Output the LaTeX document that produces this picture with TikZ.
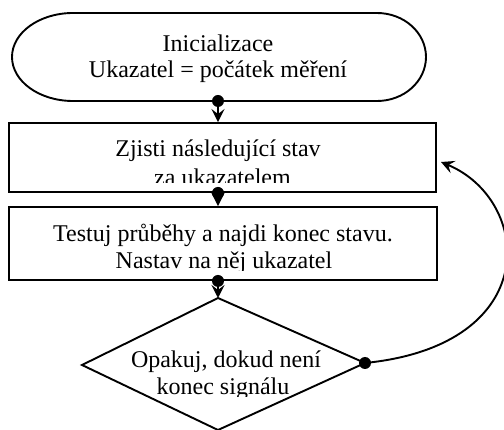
\documentclass[tikz,border=0pt]{standalone}
\usepackage{fontspec}
\setmainfont{Liberation Serif}
\usetikzlibrary{arrows.meta}
\begin{document}
\begin{tikzpicture}[x=1pt,y=-1pt,
  shapeline/.style={draw=black, line width=1.9pt},
  stepbox/.style={shapeline, rectangle, inner sep=0pt},
  txt/.style={anchor=base, inner sep=0pt, font=\fontsize{24}{28}\selectfont},
  conn/.style={line width=1.9pt, -{Stealth[length=13pt,width=13pt,inset=5pt]}},
  dot/.style={circle, fill=black, inner sep=0pt, minimum size=12pt}]
\useasboundingbox (0,0) rectangle (504,430);

% terminal
\draw[shapeline] (73,13) -- (377,13)
  arc[start angle=90,end angle=-90,x radius=49pt,y radius=44pt]
  -- (73,101)
  arc[start angle=270,end angle=90,x radius=61pt,y radius=44pt] -- cycle;
\coordinate (termS) at (218,101);
\node[txt] (t1) at (218,52) {Inicializace};
\node[txt] (t2) at (218,78) {Ukazatel = počátek měření};

% process boxes
\node[stepbox, minimum width=427pt, minimum height=69pt] (box1) at (222.5,157.5) {};
\node[stepbox, minimum width=428pt, minimum height=73pt] (box2) at (223,243.5) {};

\begin{scope}
  \clip (9,123) rectangle (436,183);
  \node[txt] (t3) at (218,157) {Zjisti následující stav};
  \node[txt] (t4) at (222.5,185.5) {za ukazatelem};
\end{scope}
\begin{scope}
  \clip (9,207) rectangle (437,271);
  \node[txt] (t5) at (223,242) {Testuj průběhy a najdi konec stavu.};
  \node[txt] (t6) at (224,269) {Nastav na něj ukazatel};
\end{scope}

% decision
\draw[shapeline] (218,298) coordinate (decN) -- (365,363) coordinate (decE)
  -- (218,430) coordinate (decS) -- (82,365) coordinate (decW) -- cycle;
\begin{scope}
  \clip (82,298) rectangle (365,397);
  \node[txt] (t7) at (226,368) {Opakuj, dokud není};
  \node[txt] (t8) at (223,395) {konec signálu};
\end{scope}

% connectors
\coordinate (b1S) at (box1.south -| termS);
\coordinate (b2S) at (box2.south -| termS);
\coordinate (fbEnd) at (441,162);
\draw[conn] (termS) -- (box1.north -| termS);
\draw[conn] (b1S) -- (box2.north -| termS);
\draw[conn] (b2S) -- (decN);
\draw[conn] (decE) .. controls (545,345) and (532,200) .. (fbEnd);

\node[dot] (d1) at (termS) {};
\node[dot] (d2) at (b1S) {};
\node[dot] (d3) at (b2S) {};
\node[dot] (d4) at (decE) {};
\end{tikzpicture}
\end{document}
